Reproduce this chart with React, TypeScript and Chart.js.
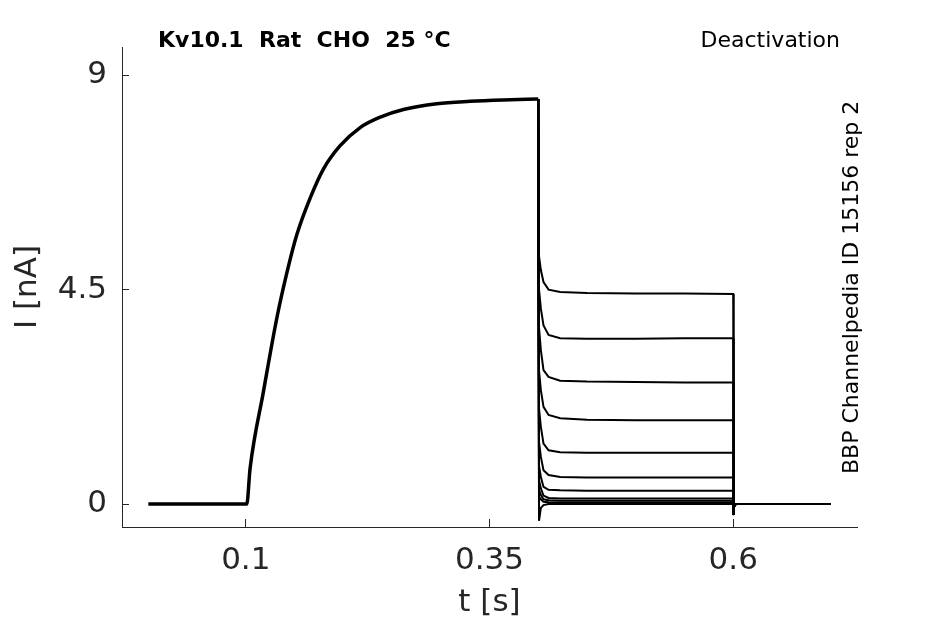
import { useEffect, useRef } from 'react';
import { Chart, registerables } from 'chart.js';

Chart.register(...registerables);

const FONT = '"DejaVu Sans", sans-serif';
const AXIS = '#262626';

const titleText = 'Kv10.1  Rat  CHO  25 °C';
const protocolText = 'Deactivation';
const sourceText = 'BBP Channelpedia ID 15156 rep 2';

const xTicks = [0.1, 0.35, 0.6];
const yTicks = [0, 4.5, 9];

// activation step, shared by every sweep (t in s, I in nA)
const actT = [0, 0.1, 0.101, 0.1044, 0.118, 0.1318, 0.1421, 0.1523, 0.166, 0.1796, 0.1968, 0.2173, 0.238, 0.2617, 0.296, 0.33, 0.364, 0.4];
const actI = [0, 0, 0, 0.75, 2.35, 3.9, 4.85, 5.65, 6.42, 7.03, 7.52, 7.9, 8.12, 8.28, 8.4, 8.45, 8.48, 8.5];

// deactivation steps, one row per sweep
const deactT = [0.4, 0.4008, 0.4027, 0.4054, 0.4106, 0.4225, 0.45, 0.5, 0.55, 0.6];
const sweep1 = [8.5, 5.2, 4.91, 4.66, 4.5, 4.45, 4.43, 4.42, 4.42, 4.41];
const sweep2 = [8.5, 4.5, 4.1, 3.75, 3.55, 3.48, 3.47, 3.47, 3.48, 3.48];
const sweep3 = [8.5, 3.7, 3.23, 2.81, 2.67, 2.59, 2.57, 2.56, 2.55, 2.55];
const sweep4 = [8.5, 2.8, 2.39, 2.04, 1.87, 1.8, 1.77, 1.76, 1.76, 1.76];
const sweep5 = [8.5, 2.0, 1.62, 1.27, 1.13, 1.09, 1.08, 1.08, 1.08, 1.08];
const sweep6 = [8.5, 1.3, 0.99, 0.71, 0.61, 0.57, 0.56, 0.56, 0.56, 0.56];
const sweep7 = [8.5, 0.8, 0.57, 0.36, 0.3, 0.29, 0.28, 0.28, 0.28, 0.28];
const sweep8 = [8.5, 0.5, 0.33, 0.18, 0.13, 0.12, 0.12, 0.12, 0.12, 0.12];
const sweep9 = [8.5, 0.3, 0.19, 0.1, 0.08, 0.07, 0.07, 0.07, 0.07, 0.07];
const sweep10 = [8.5, 0.15, 0.1, 0.05, 0.04, 0.035, 0.035, 0.035, 0.035, 0.035];
const sweep11 = [8.5, -0.35, -0.08, -0.02, 0, 0, 0, 0, 0, 0];
const sweeps = [sweep1, sweep2, sweep3, sweep4, sweep5, sweep6, sweep7, sweep8, sweep9, sweep10, sweep11];

// return to holding potential
const tailT = [0.6003, 0.6008, 0.6025, 0.61, 0.7];
const tailI = [-0.23, -0.06, 0, 0, 0];

const textPlugin = {
    id: 'textPlugin',
    afterDraw(chart: Chart) {
        const c = chart.ctx;
        c.save();
        c.fillStyle = '#000';
        c.textBaseline = 'alphabetic';
        c.font = `bold 22px ${FONT}`;
        c.textAlign = 'left';
        c.fillText(titleText, 158, 47);
        c.font = `22px ${FONT}`;
        c.textAlign = 'right';
        c.fillText(protocolText, 840, 47);
        c.translate(858, 474);
        c.rotate(-Math.PI / 2);
        c.textAlign = 'left';
        c.fillText(sourceText, 0, 0);
        c.restore();
    }
};

function TraceChart() {
    const canvasRef = useRef<HTMLCanvasElement>(null);
    const chartRef = useRef<Chart | null>(null);

    useEffect(() => {
        if (!canvasRef.current) return;
        document.body.style.margin = '0';

        const activation = actT.map((t, i) => ({ x: t, y: actI[i] }));
        const tail = tailT.map((t, i) => ({ x: t, y: tailI[i] }));

        const datasets: any[] = sweeps.map((s) => ({
            data: [...deactT.map((t, i) => ({ x: t, y: s[i] })), ...tail],
            borderColor: '#000',
            borderWidth: 2,
            showLine: true,
            pointRadius: 0,
            tension: 0,
        }));
        datasets.push({
            data: activation,
            borderColor: '#000',
            borderWidth: 3.5,
            showLine: true,
            pointRadius: 0,
            cubicInterpolationMode: 'monotone',
        });

        chartRef.current = new Chart(canvasRef.current, {
            type: 'scatter',
            data: { datasets },
            options: {
                animation: false,
                responsive: false,
                layout: { padding: { left: 0, top: 47, right: 88, bottom: 0 } },
                plugins: {
                    legend: { display: false },
                    title: { display: false },
                    tooltip: { enabled: false },
                },
                scales: {
                    x: {
                        type: 'linear',
                        min: -0.027,
                        max: 0.727,
                        afterBuildTicks: (s: any) => { s.ticks = xTicks.map((v) => ({ value: v })); },
                        afterFit: (s: any) => { s.height = 97; },
                        ticks: {
                            callback: (v: any) => String(v),
                            font: { family: FONT, size: 31 },
                            color: AXIS,
                            padding: 23,
                            maxRotation: 0,
                            autoSkip: false,
                        },
                        grid: { drawOnChartArea: false, tickLength: -8, color: AXIS },
                        border: { color: AXIS, width: 1 },
                        title: {
                            display: true,
                            text: 't [s]',
                            font: { family: FONT, size: 31 },
                            color: AXIS,
                            padding: { top: 0, bottom: 2 },
                        },
                    },
                    y: {
                        type: 'linear',
                        min: -0.48,
                        max: 9.59,
                        afterBuildTicks: (s: any) => { s.ticks = yTicks.map((v) => ({ value: v })); },
                        afterFit: (s: any) => { s.width = 122; },
                        ticks: {
                            callback: (v: any) => String(v),
                            font: { family: FONT, size: 31 },
                            color: AXIS,
                            padding: 22,
                        },
                        grid: { drawOnChartArea: false, tickLength: -7, color: AXIS },
                        border: { color: AXIS, width: 1 },
                        title: {
                            display: true,
                            text: 'I [nA]',
                            font: { family: FONT, size: 31 },
                            color: AXIS,
                            padding: { top: 9, bottom: 0 },
                        },
                    },
                },
            },
            plugins: [textPlugin],
        });

        return () => {
            if (chartRef.current) {
                chartRef.current.destroy();
                chartRef.current = null;
            }
        };
    }, []);

    return <canvas ref={canvasRef} width={945} height={624} style={{ display: 'block' }} />;
}

export default function App() {
    return <TraceChart />;
}
